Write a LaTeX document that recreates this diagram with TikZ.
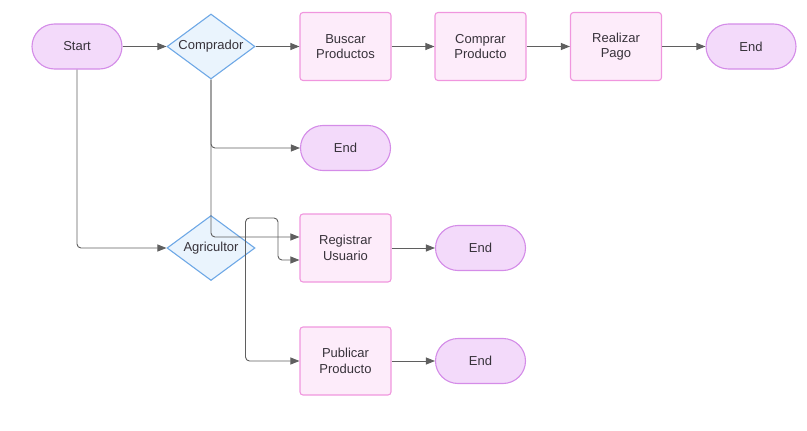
\documentclass[tikz,border=0pt]{standalone}
\usepackage{fontspec}
\setmainfont{Liberation Sans}
\definecolor{termfill}{RGB}{243, 218, 250}
\definecolor{termline}{RGB}{212, 140, 232}
\definecolor{procfill}{RGB}{253, 236, 250}
\definecolor{procline}{RGB}{240, 150, 222}
\definecolor{decfill}{RGB}{234, 244, 253}
\definecolor{decline}{RGB}{110, 168, 230}
\definecolor{flowgray}{RGB}{95, 95, 95}
\definecolor{txtgray}{RGB}{55, 50, 58}
\usetikzlibrary{shapes.geometric, arrows.meta, positioning, calc}
\tikzset{
  base/.style={font=\fontsize{13}{15.5}\selectfont, text=txtgray, align=center, line width=1.1pt},
  terminal/.style={base, draw=termline, fill=termfill, rounded corners=22.5pt, minimum width=90pt, minimum height=45pt},
  procbox/.style={base, draw=procline, fill=procfill, rounded corners=3pt, minimum width=91pt, minimum height=68pt},
  decision/.style={base, diamond, aspect=1.35, inner sep=0pt, draw=decline, fill=decfill, minimum width=88pt, minimum height=65pt},
  flow/.style={draw=flowgray, line width=0.9pt, rounded corners=4pt, -{Triangle[length=9pt, width=7pt]}}
}

\begin{document}
\begin{tikzpicture}[x=1pt, y=-1pt]
  \useasboundingbox (0,0) rectangle (807,431);

  % Buyer path
  \node[terminal] (start) at (77, 46.5) {Start};
  \node[decision] (comprador) at (211, 46.5) {Comprador};
  \node[procbox] (buscar) at (345.5, 46.5) {Buscar\\Productos};
  \node[procbox] (comprar) at (480.5, 46.5) {Comprar\\Producto};
  \node[procbox] (pago) at (616, 46.5) {Realizar\\Pago};
  \node[terminal] (endpago) at (751, 46.5) {End};
  \node[terminal] (endcomprador) at (345.5, 148) {End};

  % Farmer path
  \node[decision] (agricultor) at (211, 248) {Agricultor};
  \node[procbox] (registrar) at (345.5, 248) {Registrar\\Usuario};
  \node[terminal] (endregistrar) at (480.5, 248) {End};
  \node[procbox] (publicar) at (345.5, 361) {Publicar\\Producto};
  \node[terminal] (endpublicar) at (480.5, 361) {End};

  % Connectors
  \draw[flow] (start) -- (comprador);
  \draw[flow] (start.south) |- (agricultor);
  \draw[flow] (comprador) -- (buscar);
  \draw[flow] (buscar) -- (comprar);
  \draw[flow] (comprar) -- (pago);
  \draw[flow] (pago) -- (endpago);
  \draw[flow] (comprador.south) |- (endcomprador);
  \draw[flow] (comprador.south) |- ([yshift=11pt]registrar.west);
  \coordinate (agriout) at ([xshift=34.5pt]agricultor.center);
  \coordinate (agriloop) at (278, 218);
  \draw[flow] (agriout) |- (agriloop) |- ([yshift=-12pt]registrar.west);
  \draw[flow] (agriout) |- (publicar);
  \draw[flow] (registrar) -- (endregistrar);
  \draw[flow] (publicar) -- (endpublicar);
\end{tikzpicture}
\end{document}
